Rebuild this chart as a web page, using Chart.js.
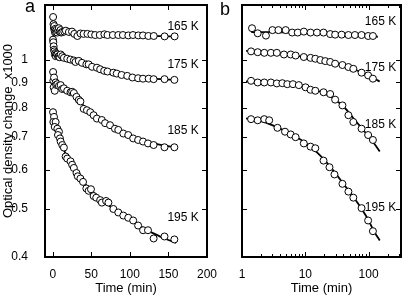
<!DOCTYPE html>
<html>
<head>
<meta charset="utf-8">
<script src="https://cdn.jsdelivr.net/npm/chart.js@4.4.0/dist/chart.umd.min.js"></script>
<style>
  body { margin: 0; background: #fff; width: 406px; height: 298px; overflow: hidden; position: relative; font-family: "Liberation Sans", Arial, sans-serif; }
  #boxA { position: absolute; left: 0; top: 0; width: 230px; height: 298px; }
  #boxB { position: absolute; left: 214px; top: 0; width: 192px; height: 298px; }
  .panel { position: absolute; font-size: 18px; line-height: 18px; color: #000; }
</style>
</head>
<body>
<div id="boxA"><canvas id="chartA"></canvas></div>
<div id="boxB"><canvas id="chartB"></canvas></div>
<div class="panel" style="left:25px; top:-3px">a</div>
<div class="panel" style="left:220px; top:0px">b</div>
<script>
// axis ticks
const timeTicksA = [0, 50, 100, 150, 200];
const timeTicksB = [1, 10, 100];
const timeMinorB = [2, 3, 4, 5, 6, 7, 8, 9, 20, 30, 40, 50, 60, 70, 80, 90, 200, 300];
const odTicks = [0.4, 0.5, 0.6, 0.7, 0.8, 0.9, 1];
const temps = ['165 K', '175 K', '185 K', '195 K'];

// panel a: measured points [time (min), OD x1000]
const ptsA165 = [[0.5,1.22],[1,1.18],[1.5,1.16],[2,1.17],[2.5,1.145],[3,1.135],[3.5,1.155],[4,1.14],[5,1.15],[6,1.135],[7,1.145],[8,1.158],[9,1.14],[10,1.148],[11,1.135],[12.5,1.138],[15,1.14],[17,1.145],[21,1.138],[25,1.14],[28,1.128],[32,1.117],[36,1.13],[40,1.128],[45,1.128],[50,1.125],[55,1.122],[61,1.122],[67,1.126],[71,1.122],[78,1.122],[85,1.122],[91,1.122],[98,1.12],[104,1.122],[111,1.12],[117,1.12],[124,1.117],[131,1.117],[145,1.115],[158,1.115]];
const ptsA175 = [[0.4,1.098],[0.8,1.085],[1.2,1.065],[1.7,1.048],[2.2,1.04],[2.8,1.025],[3.5,1.032],[4,1.017],[5,1.028],[6,1.025],[7,1.015],[8,1.017],[9,1.012],[10.3,1.025],[12.4,1.017],[14.5,1.009],[18.8,1.005],[23,1.001],[27.4,0.997],[29.5,0.99],[33.8,0.995],[38,0.986],[43.6,0.979],[46.6,0.979],[51,0.968],[57.3,0.964],[61.5,0.957],[66.7,0.95],[71,0.947],[78.6,0.942],[83,0.938],[89.3,0.932],[96.6,0.928],[103.4,0.921],[110.7,0.918],[117,0.916],[124.4,0.916],[130.8,0.914],[144.9,0.914],[157.7,0.911]];
const ptsA185 = [[0.5,0.945],[0.8,0.907],[1.7,0.921],[1.2,0.88],[2.6,0.866],[3.8,0.9],[4.5,0.89],[6,0.893],[8.1,0.886],[10.3,0.889],[12.4,0.873],[14.5,0.876],[18.8,0.866],[23.1,0.86],[25.2,0.862],[27.4,0.857],[30.8,0.842],[33.8,0.83],[35.9,0.824],[40.2,0.796],[44.4,0.791],[48.7,0.784],[53,0.773],[57.3,0.761],[63.7,0.756],[67.9,0.745],[74.3,0.738],[80.7,0.726],[85,0.722],[91.5,0.71],[97.9,0.705],[104.3,0.694],[110.7,0.689],[117.1,0.684],[123.5,0.678],[130.8,0.673],[144.9,0.666],[157.7,0.666]];
const ptsA195 = [[0.4,0.784],[1.7,0.767],[0.8,0.749],[3.8,0.749],[2.6,0.732],[6,0.726],[8.1,0.716],[6.8,0.705],[9.4,0.694],[10.3,0.684],[12.4,0.673],[14.5,0.665],[16.7,0.638],[18.8,0.632],[23.1,0.624],[25.2,0.614],[27.4,0.605],[30.8,0.591],[32.5,0.582],[35.9,0.576],[39.3,0.567],[43.6,0.55],[46.6,0.544],[49.6,0.548],[53,0.531],[56.4,0.527],[61.5,0.521],[63.7,0.515],[69.2,0.519],[72.2,0.515],[78.6,0.5],[85,0.492],[91.5,0.485],[97.9,0.48],[104.3,0.474],[110.7,0.463],[117.1,0.453],[123.5,0.453],[130.8,0.436],[144.9,0.44],[157.7,0.434]];

// panel a: fitted curves
const fitA165 = [[4,1.142],[10,1.136],[20,1.131],[40,1.127],[60,1.124],[80,1.122],[100,1.12],[120,1.118],[140,1.116],[160,1.114]];
const fitA175 = [[3,1.03],[10,1.006],[20,0.993],[30,0.984],[40,0.975],[50,0.967],[60,0.958],[70,0.95],[80,0.942],[90,0.935],[100,0.928],[115,0.921],[130,0.916],[145,0.913],[160,0.911]];
const fitA185 = [[5,0.895],[10,0.882],[20,0.866],[25,0.858],[30,0.843],[35,0.826],[40,0.808],[45,0.792],[50,0.779],[60,0.758],[70,0.742],[80,0.727],[90,0.714],[100,0.703],[115,0.69],[130,0.679],[145,0.671],[160,0.665]];
const fitA195 = [[5,0.74],[8,0.71],[10,0.69],[13,0.67],[16,0.65],[20,0.632],[25,0.612],[30,0.594],[40,0.566],[50,0.545],[60,0.527],[70,0.512],[80,0.498],[90,0.486],[100,0.475],[110,0.465],[120,0.455],[130,0.447],[145,0.436],[160,0.427]];

// panel b: measured points
const ptsB165 = [[1.44,1.158],[1.77,1.131],[2.39,1.119],[3.03,1.148],[3.76,1.148],[4.9,1.148],[6.2,1.135],[7.6,1.135],[9.5,1.14],[12.1,1.135],[15.3,1.135],[19.4,1.135],[24.7,1.127],[29.6,1.124],[37.5,1.124],[48,1.122],[60.8,1.122],[77.4,1.122],[98.3,1.117],[117,1.117]];
const ptsB175 = [[1.39,1.04],[1.77,1.036],[2.25,1.033],[2.86,1.033],[3.55,1.033],[4.6,1.025],[5.88,1.025],[7.03,1.02],[9.47,1.013],[12.1,1.009],[14.4,1.005],[17.3,0.999],[20.7,0.994],[24.7,0.99],[29.6,0.982],[38.6,0.976],[48,0.967],[57.4,0.959],[77.4,0.942],[98.3,0.93],[117,0.916]];
const ptsB185 = [[1.39,0.907],[1.77,0.9],[2.25,0.9],[2.86,0.9],[3.55,0.896],[4.34,0.897],[5.2,0.893],[6.38,0.893],[7.9,0.889],[10.1,0.88],[12.1,0.87],[14.4,0.866],[19.4,0.86],[24.7,0.853],[29.6,0.831],[38.6,0.809],[48,0.773],[57.4,0.749],[77.4,0.726],[98.3,0.705],[117,0.689]];
const ptsB195 = [[1.39,0.759],[1.77,0.755],[2.25,0.759],[2.69,0.755],[3.63,0.729],[4.78,0.716],[5.88,0.707],[7.03,0.698],[9.47,0.678],[12.1,0.668],[14.4,0.663],[19.4,0.626],[24.1,0.607],[28.9,0.587],[38.6,0.562],[48,0.542],[57.4,0.527],[77.4,0.502],[98.3,0.474],[117,0.451]];

// panel b: fitted curves
const fitB165 = [[1.4,1.138],[3,1.137],[10,1.133],[30,1.126],[60,1.12],[100,1.116],[140,1.113]];
const fitB175 = [[1.16,1.042],[2,1.038],[5,1.027],[10,1.013],[20,0.995],[40,0.973],[60,0.956],[80,0.942],[100,0.929],[120,0.918],[150,0.904]];
const fitB185 = [[1.16,0.905],[2,0.902],[5,0.895],[10,0.88],[15,0.868],[20,0.855],[30,0.83],[40,0.805],[50,0.78],[60,0.757],[80,0.725],[100,0.7],[120,0.68],[150,0.653]];
const fitB195 = [[1.16,0.762],[2,0.752],[3,0.738],[5,0.716],[7,0.7],[10,0.68],[15,0.652],[20,0.628],[30,0.59],[40,0.562],[60,0.525],[80,0.497],[100,0.474],[120,0.452],[150,0.432]];

// label anchors in data units [time, OD]
const labelPosA = [[169,1.169],[169,0.977],[169,0.719],[169,0.48]];
const labelPosB = [[154,1.195],[154,0.964],[154,0.739],[154,0.503]];

const FONT = '"Liberation Sans", Arial, sans-serif';

function toXY(arr) {
    return arr.map(p => ({x: p[0], y: p[1]}));
}

function buildDatasets(pts, fits) {
    const sets = [];
    pts.forEach(p => {
        sets.push({
            data: toXY(p),
            showLine: false,
            pointRadius: 3.5,
            pointBorderWidth: 1,
            pointBackgroundColor: '#fff',
            pointBorderColor: '#000',
            order: 1
        });
    });
    fits.forEach(f => {
        sets.push({
            data: toXY(f),
            showLine: true,
            borderColor: '#000',
            borderWidth: 1.8,
            pointRadius: 0,
            cubicInterpolationMode: 'monotone',
            fill: false,
            order: 2
        });
    });
    return sets;
}

// frame, inward ticks and temperature labels
const framePlugin = {
    id: 'frame',
    afterDatasetsDraw(chart, args, opts) {
        const ctx = chart.ctx;
        const a = chart.chartArea;
        const xs = chart.scales.x;
        const ys = chart.scales.y;
        ctx.save();
        ctx.strokeStyle = '#000';
        ctx.lineWidth = 1;
        ctx.beginPath();
        const xTick = (v, len) => {
            const p = Math.round(xs.getPixelForValue(v)) + 0.5;
            ctx.moveTo(p, a.bottom); ctx.lineTo(p, a.bottom - len);
            ctx.moveTo(p, a.top); ctx.lineTo(p, a.top + len);
        };
        opts.xMajor.forEach(v => xTick(v, 5));
        opts.xMinor.forEach(v => xTick(v, 3));
        opts.yMajor.forEach(v => {
            const p = Math.round(ys.getPixelForValue(v)) + 0.5;
            ctx.moveTo(a.left, p); ctx.lineTo(a.left + 5, p);
            ctx.moveTo(a.right, p); ctx.lineTo(a.right - 5, p);
        });
        ctx.stroke();
        ctx.lineWidth = 2;
        ctx.strokeRect(a.left, a.top, a.right - a.left, a.bottom - a.top);

        ctx.font = '12px ' + FONT;
        ctx.fillStyle = '#000';
        ctx.textAlign = 'center';
        ctx.textBaseline = 'middle';
        opts.labels.forEach((pos, i) => {
            ctx.fillText(temps[i], xs.getPixelForValue(pos[0]), ys.getPixelForValue(pos[1]));
        });
        ctx.restore();
    }
};

function makeChart(id, cfg) {
    const ctx = document.getElementById(id).getContext('2d');
    return new Chart(ctx, {
        type: 'scatter',
        data: { datasets: buildDatasets(cfg.pts, cfg.fits) },
        plugins: [framePlugin],
        options: {
            responsive: true,
            maintainAspectRatio: false,
            animation: false,
            layout: { padding: { left: 0, right: cfg.padRight, top: 1, bottom: 0 } },
            plugins: {
                legend: { display: false },
                tooltip: { enabled: false },
                frame: { xMajor: cfg.xTicks, xMinor: cfg.xMinor, yMajor: odTicks, labels: cfg.labels }
            },
            scales: {
                x: {
                    type: cfg.xType,
                    min: cfg.xMin,
                    max: cfg.xMax,
                    grid: { display: false },
                    border: { display: false },
                    ticks: {
                        padding: 2,
                        color: '#000',
                        font: { family: FONT, size: 12 },
                        maxRotation: 0,
                        autoSkip: false,
                        callback: v => String(v)
                    },
                    afterBuildTicks: s => { s.ticks = cfg.xTicks.map(v => ({value: v})); },
                    afterFit: s => { s.height = 41; s.paddingLeft = 0; s.paddingRight = 0; },
                    title: {
                        display: true,
                        text: 'Time (min)',
                        color: '#000',
                        font: { family: FONT, size: 13 },
                        padding: { top: 0, bottom: 2 }
                    }
                },
                y: {
                    type: 'logarithmic',
                    min: 0.4,
                    max: 1.29,
                    grid: { display: false },
                    border: { display: false },
                    ticks: {
                        display: cfg.yLabels,
                        padding: 9,
                        color: '#000',
                        font: { family: FONT, size: 12 },
                        callback: v => String(v)
                    },
                    afterBuildTicks: s => { s.ticks = odTicks.map(v => ({value: v})); },
                    afterFit: s => { s.width = cfg.yWidth; s.paddingTop = 0; s.paddingBottom = 0; },
                    title: {
                        display: cfg.yLabels,
                        text: 'Optical density change  x1000',
                        color: '#000',
                        font: { family: FONT, size: 13 },
                        padding: { top: 1, bottom: 0 }
                    }
                }
            }
        }
    });
}

makeChart('chartA', {
    pts: [ptsA165, ptsA175, ptsA185, ptsA195],
    fits: [fitA165, fitA175, fitA185, fitA195],
    xType: 'linear', xMin: -10, xMax: 200,
    xTicks: timeTicksA, xMinor: [],
    labels: labelPosA,
    yLabels: true, yWidth: 45, padRight: 23
});

makeChart('chartB', {
    pts: [ptsB165, ptsB175, ptsB185, ptsB195],
    fits: [fitB165, fitB175, fitB185, fitB195],
    xType: 'logarithmic', xMin: 1, xMax: 325,
    xTicks: timeTicksB, xMinor: timeMinorB,
    labels: labelPosB,
    yLabels: false, yWidth: 28, padRight: 4
});
</script>
</body>
</html>
